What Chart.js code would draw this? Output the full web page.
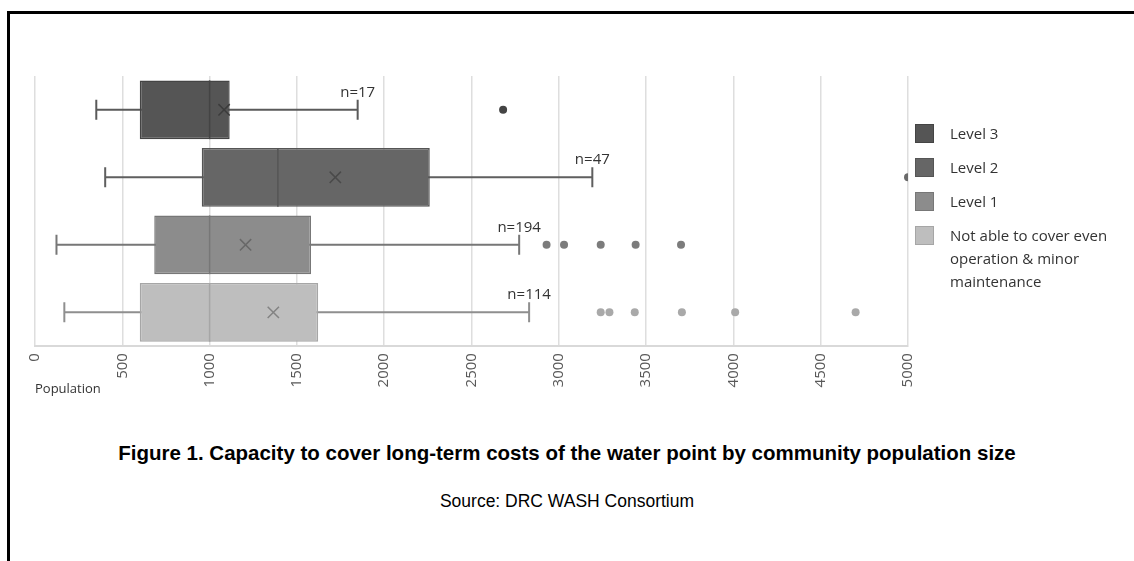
<!DOCTYPE html>
<html>
<head>
<meta charset="utf-8">
<script src="https://cdn.jsdelivr.net/npm/chart.js@4"></script>
<style>
  body { margin: 0; background: #fff; }
  #page { position: relative; width: 1134px; height: 561px; overflow: hidden; }
  #frame { position: absolute; left: 7px; top: 11px; right: -5px; bottom: -5px; border-top: 3px solid #000; border-left: 3px solid #000; }
  #wrap { position: absolute; left: 0; top: 0; width: 1134px; height: 412px; }
  #legend { position: absolute; left: 915px; top: 124px; font-family: "Open Sans", sans-serif; font-size: 15px; color: #333; }
  .item { display: flex; align-items: flex-start; margin-bottom: 13px; }
  .swatch { width: 19px; height: 19px; box-sizing: border-box; flex: none; margin-right: 16px; }
  .item span { width: 185px; line-height: 23px; margin-top: -2px; }
  #title { position: absolute; left: 0; width: 1134px; top: 441px; text-align: center; font-family: "Liberation Sans", Arial, sans-serif; font-weight: bold; font-size: 20.5px; color: #000; }
  #source { position: absolute; left: 0; width: 1134px; top: 491px; text-align: center; font-family: "Liberation Sans", Arial, sans-serif; font-size: 17.5px; color: #000; }
</style>
</head>
<body>
<div id="page">
  <div id="frame"></div>
  <div id="wrap"><canvas id="box_chart"></canvas></div>
  <div id="legend"></div>
  <div id="title">Figure 1. Capacity to cover long-term costs of the water point by community population size</div>
  <div id="source">Source: DRC WASH Consortium</div>
</div>
<script>
// values (population)
const categories = ['Level 3', 'Level 2', 'Level 1', 'Not able to cover even operation & minor maintenance'];
const whiskerLow = [351, 402, 123, 168];
const q1 = [600, 955, 683, 600];
const median = [1000, 1391, 1000, 1000];
const q3 = [1115, 2261, 1581, 1622];
const whiskerHigh = [1848, 3192, 2773, 2830];
const means = [1083, 1720, 1206, 1365];
const counts = [17, 47, 194, 114];
const outliers = [
  [2681],
  [5000],
  [2930, 3030, 3240, 3440, 3700],
  [3240, 3290, 3435, 3705, 4010, 4700]
];
const xTicks = [0, 500, 1000, 1500, 2000, 2500, 3000, 3500, 4000, 4500, 5000];

const fillColors = ['#555555', '#666666', '#8c8c8c', '#bebebe'];
const edgeColors = ['#444444', '#555555', '#777777', '#a6a6a6'];
const lineColors = ['#5a5a5a', '#5f5f5f', '#777777', '#8f8f8f'];
const dotColors = ['#444444', '#6a6a6a', '#7c7c7c', '#a9a9a9'];

// legend
var legend = document.getElementById('legend');
categories.forEach(function(c, i) {
  var item = document.createElement('div');
  item.className = 'item';
  item.innerHTML = '<div class="swatch" style="background:' + fillColors[i] + ';border:1px solid ' + edgeColors[i] + '"></div><span>' + c.replace('&', '&amp;') + '</span>';
  legend.appendChild(item);
});

var boxData = categories.map(function(c, i) { return [q1[i], q3[i]]; });
var meanData = categories.map(function(c, i) { return {x: means[i], y: c}; });
var outData = [];
var outColors = [];
outliers.forEach(function(list, i) {
  list.forEach(function(v) {
    outData.push({x: v, y: categories[i]});
    outColors.push(dotColors[i]);
  });
});

const boxExtras = {
  id: 'boxExtras',
  beforeDatasetsDraw(chart) {
    const ctx = chart.ctx;
    const xs = chart.scales.x;
    const ys = chart.scales.y;
    ctx.save();
    categories.forEach(function(c, i) {
      const y = ys.getPixelForValue(i);
      ctx.strokeStyle = lineColors[i];
      ctx.lineWidth = 2;
      ctx.beginPath();
      ctx.moveTo(xs.getPixelForValue(whiskerLow[i]), y);
      ctx.lineTo(xs.getPixelForValue(whiskerHigh[i]), y);
      [whiskerLow[i], whiskerHigh[i]].forEach(function(v) {
        const x = xs.getPixelForValue(v);
        ctx.moveTo(x, y - 10);
        ctx.lineTo(x, y + 10);
      });
      ctx.stroke();
    });
    ctx.restore();
  },
  afterDatasetDraw(chart, args) {
    if (args.index !== 2) return;
    const ctx = chart.ctx;
    const xs = chart.scales.x;
    const meta = chart.getDatasetMeta(2);
    ctx.save();
    meta.data.forEach(function(bar, i) {
      const x = xs.getPixelForValue(median[i]);
      ctx.strokeStyle = edgeColors[i];
      ctx.lineWidth = 1.5;
      ctx.beginPath();
      ctx.moveTo(x, bar.y - bar.height / 2);
      ctx.lineTo(x, bar.y + bar.height / 2);
      ctx.stroke();
    });
    ctx.restore();
  },
  afterDatasetsDraw(chart) {
    const ctx = chart.ctx;
    const xs = chart.scales.x;
    const ys = chart.scales.y;
    ctx.save();
    ctx.font = '15px "Open Sans"';
    ctx.fillStyle = '#333';
    ctx.textAlign = 'center';
    ctx.textBaseline = 'bottom';
    categories.forEach(function(c, i) {
      ctx.fillText('n=' + counts[i], xs.getPixelForValue(whiskerHigh[i]), ys.getPixelForValue(i) - 10);
    });
    ctx.restore();
  }
};

const ctx_box = document.getElementById('box_chart').getContext('2d');
const boxChart = new Chart(ctx_box, {
  type: 'bar',
  data: {
    labels: categories,
    datasets: [{
      type: 'scatter',
      label: 'Mean',
      data: meanData,
      pointStyle: 'crossRot',
      radius: 8,
      borderWidth: 1.5,
      borderColor: ['#3c3c3c', '#4a4a4a', '#686868', '#838383'],
      order: 1
    }, {
      type: 'scatter',
      label: 'Outliers',
      data: outData,
      pointStyle: 'circle',
      radius: 4,
      borderWidth: 0,
      backgroundColor: outColors,
      clip: 0,
      order: 1
    }, {
      label: 'Box',
      data: boxData,
      backgroundColor: fillColors,
      borderColor: edgeColors,
      borderWidth: 1.5,
      borderSkipped: false,
      barPercentage: 0.87,
      categoryPercentage: 1,
      order: 2
    }]
  },
  options: {
    indexAxis: 'y',
    responsive: true,
    maintainAspectRatio: false,
    animation: false,
    layout: { padding: { left: 35, right: 226, top: 76, bottom: 11 } },
    plugins: { legend: { display: false }, tooltip: { enabled: false } },
    scales: {
      x: {
        type: 'linear',
        min: 0,
        max: 5000,
        afterBuildTicks: function(axis) { axis.ticks = xTicks.map(function(v) { return {value: v}; }); },
        grid: { color: '#dedede', lineWidth: 1.5, drawTicks: false },
        border: { color: '#d9d9d9', width: 2 },
        ticks: {
          minRotation: 90,
          maxRotation: 90,
          padding: 7,
          color: '#595959',
          font: { family: 'Open Sans', size: 15 },
          callback: function(v) { return String(v); }
        },
        title: {
          display: true,
          text: 'Population',
          align: 'start',
          color: '#333',
          font: { family: 'Open Sans', size: 13 },
          padding: { top: -13, bottom: 4 }
        }
      },
      y: {
        type: 'category',
        display: false,
        offset: true
      }
    }
  },
  plugins: [boxExtras]
});
</script>
</body>
</html>
